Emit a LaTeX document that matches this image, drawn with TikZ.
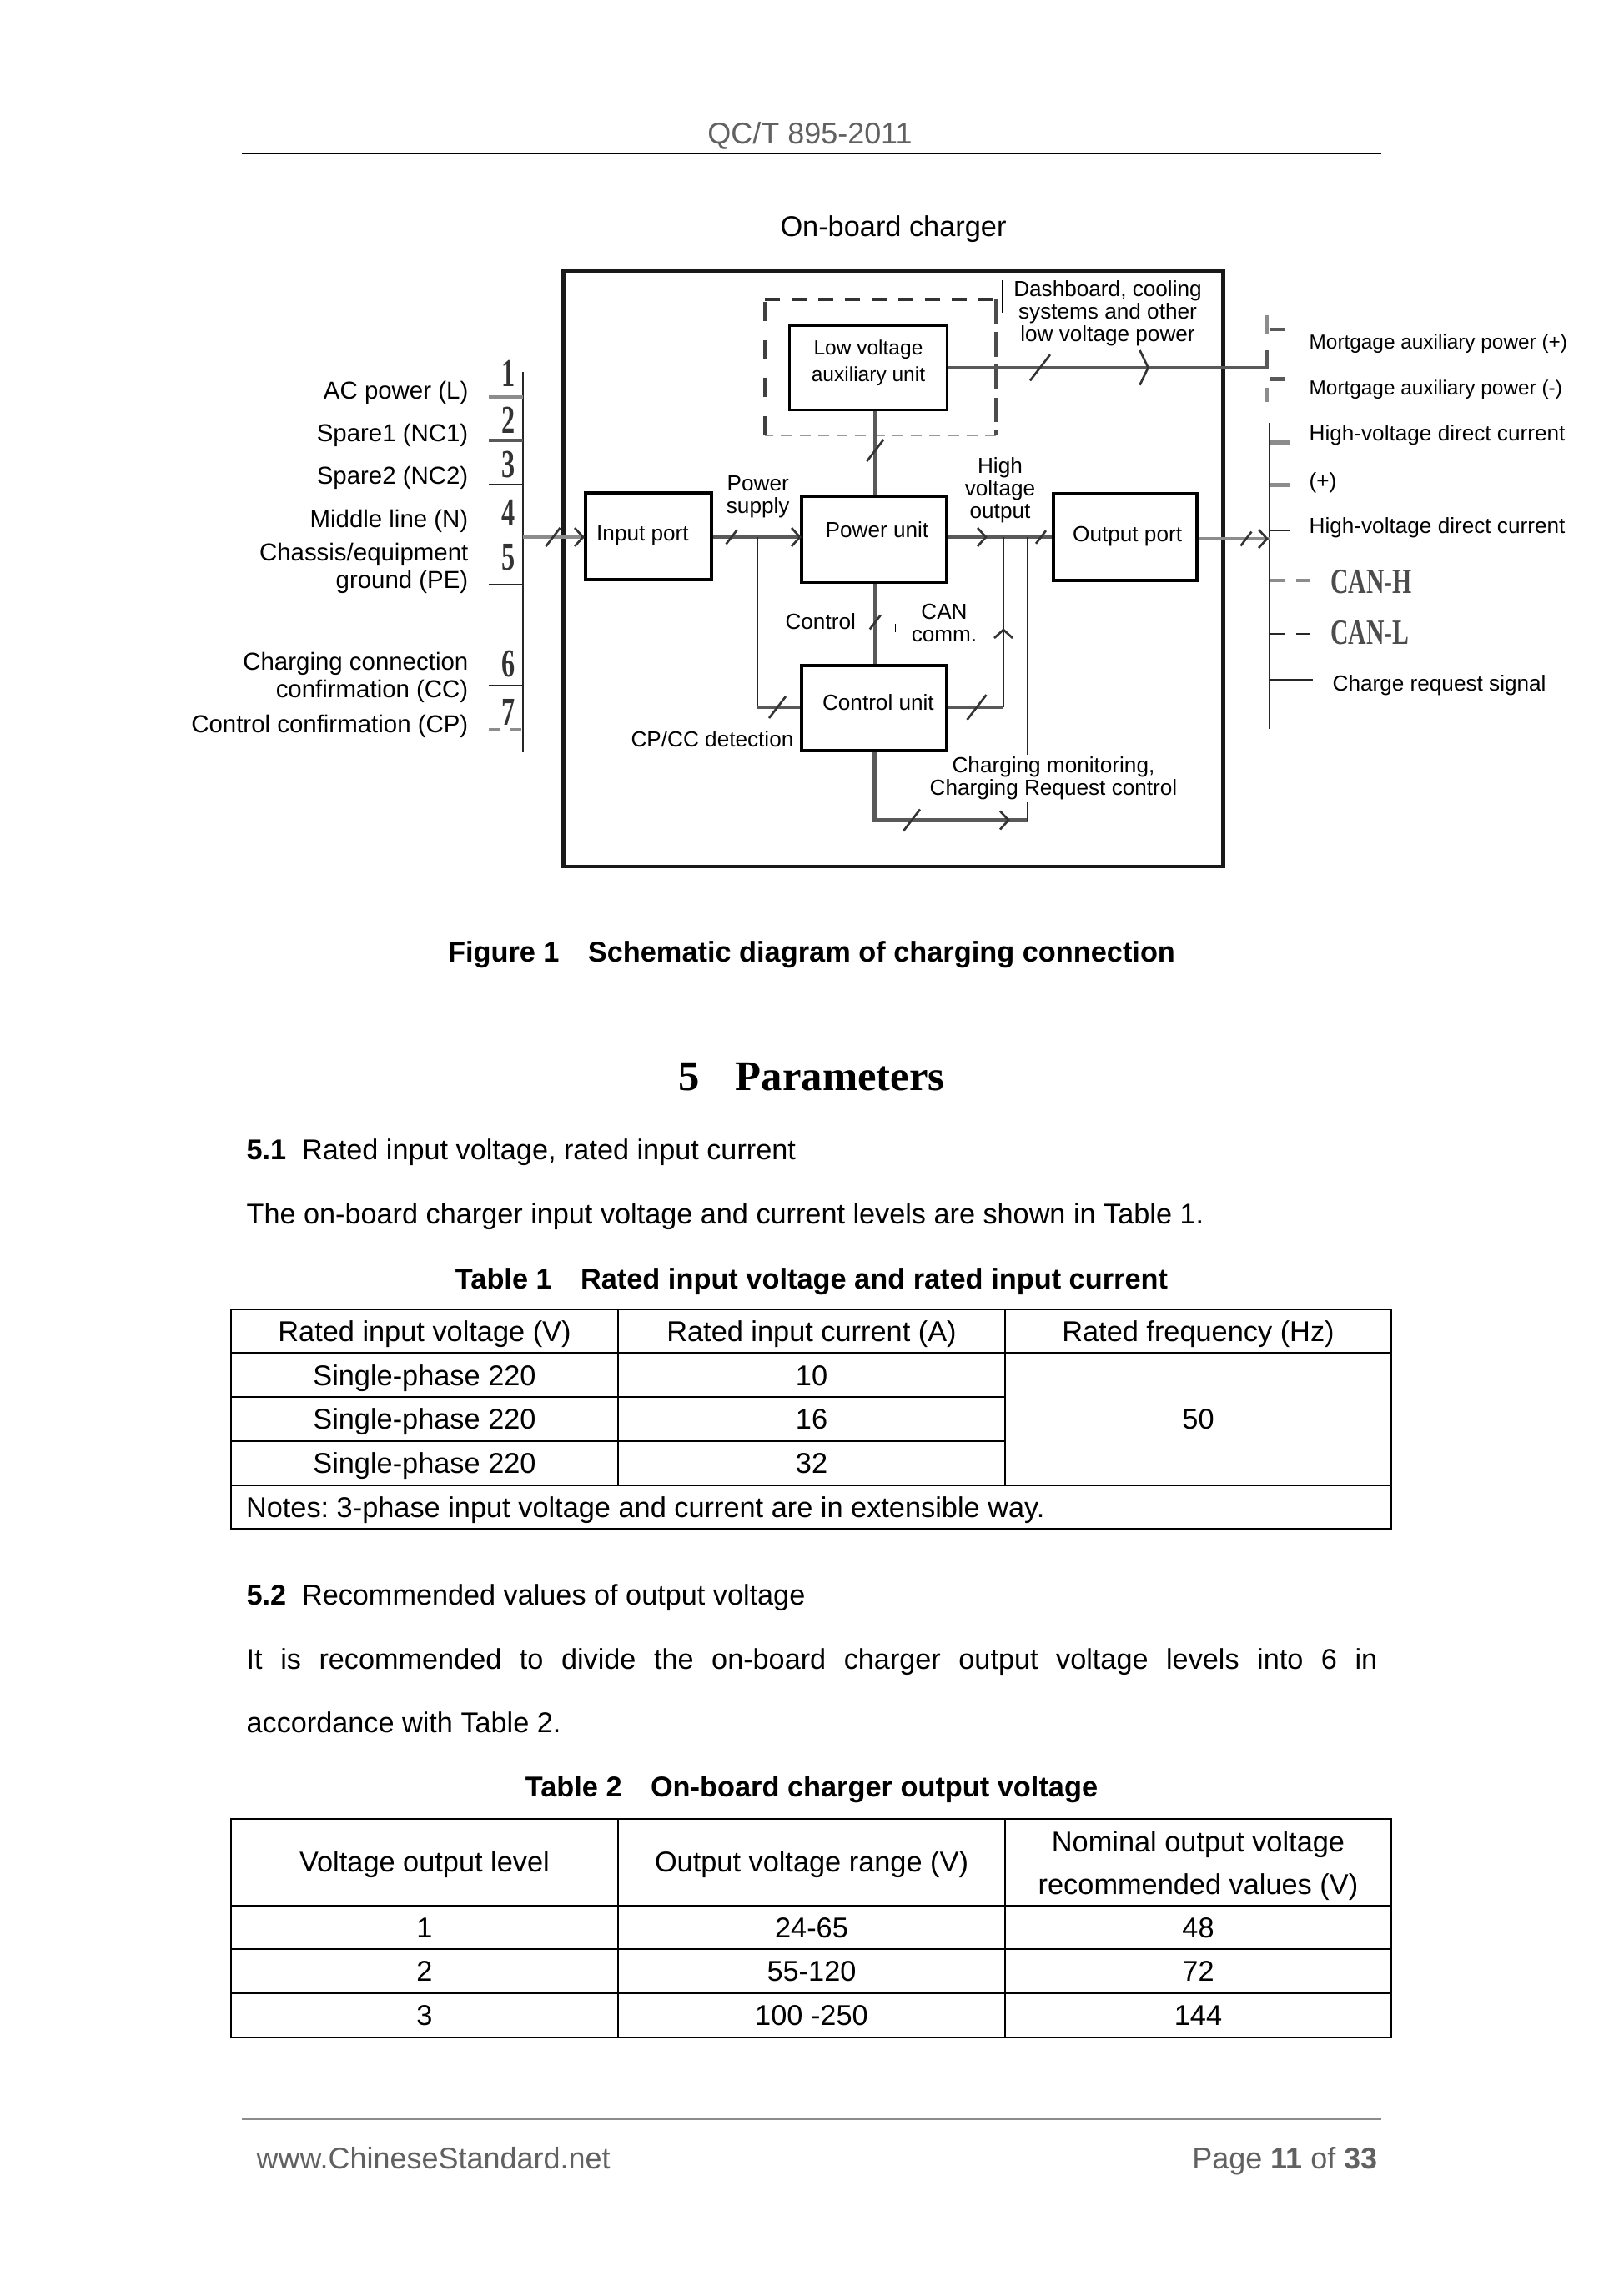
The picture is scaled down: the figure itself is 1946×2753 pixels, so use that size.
\documentclass[tikz,border=0pt]{standalone}
\usepackage{fontspec}
\usepackage{xcolor}
\setmainfont{Liberation Sans}
\newfontfamily\scanfont{Liberation Serif}
\usetikzlibrary{shapes, arrows.meta, positioning}
\newcommand{\pxu}{0.3058pt}
\definecolor{pagegray}{gray}{0.38}
\definecolor{wiregray}{gray}{0.35}

\begin{document}
\begin{tikzpicture}[x=0.3058pt, y=-0.3058pt,
            lbl/.style={inner sep=0pt, align=center, font=\fontsize{8}{8.2}\selectfont},
            one/.style={lbl, text height=7pt, text depth=1.2pt},
            leftlbl/.style={inner sep=0pt, anchor=east, align=right, font=\fontsize{9}{10}\selectfont},
            rightlbl/.style={one, anchor=west},
            pinnum/.style={inner sep=0pt, xscale=0.68, transform shape, text=black!80, font=\scanfont\fontsize{14.5}{15}\selectfont\bfseries},
            canlbl/.style={inner sep=0pt, anchor=west, xscale=0.7, transform shape, text=black!70, font=\scanfont\fontsize{13}{14}\selectfont\bfseries},
            unitbox/.style={draw, rectangle, line width=1.1pt, inner sep=0pt, align=center, font=\fontsize{8}{8.2}\selectfont},
            wire/.style={draw=wiregray, line width=1.4pt},
            thinwire/.style={draw=black!85, line width=0.6pt},
            fatgray/.style={draw=black!45, line width=1.4pt},
            cell/.style={draw, line width=0.5pt, inner sep=0pt, align=center, text height=9pt, text depth=1.5pt, font=\fontsize{10.5}{15.6}\selectfont},
            para/.style={inner sep=0pt, anchor=west, text height=9pt, text depth=1.5pt, font=\fontsize{10.47}{12}\selectfont},
            heading/.style={inner sep=0pt, text height=9pt, text depth=1.5pt, font=\fontsize{10.5}{12}\selectfont\bfseries},
            slash/.pic={\draw[draw=black!80, line width=0.8pt] (-10,13) -- (10,-13);},
            chev/.pic={\draw[draw=black!80, line width=0.8pt] (-10,-11) -- (0,0) -- (-10,11);}]

            \useasboundingbox (0,0) rectangle (1946,2753);

            \node[heading, font=\fontsize{11}{12}\selectfont, text=pagegray] (header) at (971,160) {QC/T 895-2011};
            \coordinate (rulel) at (290,184.5);
            \coordinate (ruler) at (1656,184.5);
            \draw[line width=0.6pt] (rulel) -- (ruler);
            \node[one, font=\fontsize{10.5}{12}\selectfont] (title) at (1071,274) {On-board charger};

            \node[draw=black!90, line width=1.3pt, rectangle, minimum width=791*\pxu, minimum height=714*\pxu, inner sep=0pt] (charger) at (1071,682) {};

            \node[unitbox, minimum width=189*\pxu, minimum height=101*\pxu, font=\fontsize{7.5}{10}\selectfont] (lowunit) at (1041,441) {Low voltage\\auxiliary unit\\[-4.8pt]\mbox{}};
            \node[unitbox, minimum width=151*\pxu, minimum height=104*\pxu, text height=6pt, text depth=2.4pt] (inport) at (777.5,643) {Input port\hspace{4.3pt}};
            \node[unitbox, minimum width=174*\pxu, minimum height=103*\pxu, text height=6pt, text depth=7.8pt] (powerunit) at (1048,647) {\hspace{2.1pt}Power unit};
            \node[unitbox, minimum width=172*\pxu, minimum height=104*\pxu, text height=6pt, text depth=2.8pt] (outport) at (1349,644) {\hspace{1.6pt}Output port};
            \node[unitbox, minimum width=174*\pxu, minimum height=102*\pxu, text height=6pt, text depth=4.4pt] (ctrlunit) at (1048,849) {\hspace{3pt}Control unit};

            \coordinate (dbtl) at (917,359);
            \coordinate (dbtr) at (1194,359);
            \coordinate (dbbl) at (917,522);
            \coordinate (dbbr) at (1194,522);
            \draw[draw=black!75, line width=1.1pt, dash pattern=on 7pt off 7pt] (dbbl) -- (dbtl);
            \draw[draw=black!80, line width=1.1pt, dash pattern=on 5.5pt off 4.3pt] (dbtl) -- (dbtr);
            \draw[draw=black!70, line width=1.1pt, dash pattern=on 9pt off 3pt] (dbtr) -- (dbbr);
            \draw[draw=black!40, line width=0.6pt, dash pattern=on 4pt off 2.8pt] (dbbr) -- (dbbl);
            \coordinate (flecka) at (1201.5,336);
            \coordinate (fleckb) at (1201.5,375);
            \draw[line width=0.3pt] (flecka) -- (fleckb);

            % left pins
            \coordinate (pinbust) at (627,446);
            \coordinate (pinbusb) at (627,902);
            \draw[thinwire] (pinbust) -- (pinbusb);
            \foreach \n/\ty/\ny/\sty in {1/476/448/fatgray, 2/528/504/wire, 3/581/557/thinwire, 4/0/615/, 5/701/668/thinwire, 6/822/796/thinwire}
            {
                \node[pinnum] (num\n) at (609.5,\ny) {\n};
                \ifnum\ty>0
                    \coordinate (tick\n) at (586,\ty);
                    \draw[\sty] (tick\n) -- (tick\n -| pinbust);
                \fi
            }
            \node[pinnum] (num7) at (609.5,854) {7};
            \coordinate (tick7) at (586,875);
            \draw[fatgray, dash pattern=on 4.3pt off 3.2pt] (tick7) -- (tick7 -| pinbust);

            \node[leftlbl] (lblL) at (562,471) {AC power (L)};
            \node[leftlbl] (lblNCa) at (562,521.5) {Spare1 (NC1)};
            \node[leftlbl] (lblNCb) at (562,572.5) {Spare2 (NC2)};
            \node[leftlbl] (lblN) at (562,624.5) {Middle line (N)};
            \node[leftlbl] (lblPE) at (562,681.5) {Chassis/equipment\\ground (PE)};
            \node[leftlbl] (lblCC) at (562,812.5) {Charging connection\\confirmation (CC)};
            \node[leftlbl] (lblCP) at (562,870.5) {Control confirmation (CP)};

            % signal lines
            \coordinate (mainy) at (0,644);
            \draw[fatgray] (pinbust |- mainy) -- (inport.west |- mainy);
            \pic at (699,644) {chev};
            \pic[scale=0.85] at (663,644) {slash};
            \draw[wire] (inport.east |- mainy) -- (powerunit.west |- mainy);
            \pic at (959,644) {chev};
            \pic[scale=0.65] at (877,644) {slash};
            \coordinate (ccjoin) at (908,848);
            \draw[thinwire] (ccjoin |- mainy) -- (ccjoin);
            \draw[wire] (ccjoin) -- (ctrlunit.west |- ccjoin);
            \pic at (932,848) {slash};
            \draw[wire] (powerunit.north -| 1049.3,0) -- (lowunit.south -| 1049.3,0);
            \pic at (1049.3,540) {slash};
            \draw[wire] (powerunit.south -| 1049.3,0) -- (ctrlunit.north -| 1049.3,0);
            \pic[scale=0.65] at (1049.3,746) {slash};
            \coordinate (flickc) at (1073,748);
            \coordinate (flickd) at (1073,758);
            \draw[line width=0.3pt] (flickc) -- (flickd);
            \draw[wire] (powerunit.east |- mainy) -- (outport.west |- mainy);
            \pic at (1182,644) {chev};
            \pic[scale=0.6] at (1248,644) {slash};
            \coordinate (canjoin) at (1203,848);
            \draw[wire] (ctrlunit.east |- canjoin) -- (canjoin);
            \draw[thinwire] (canjoin) -- (canjoin |- mainy);
            \pic[rotate=90] at (1203,755) {chev};
            \pic[scale=1.15] at (1171,848) {slash};
            \coordinate (monbot) at (1232,983.5);
            \coordinate (monstart) at (1048.4,983.5);
            \draw[wire] (ctrlunit.south -| monstart) -- (monstart) -- (monbot);
            \draw[thinwire] (monbot) -- (monbot |- mainy);
            \pic at (1209,983.5) {chev};
            \pic at (1093,983.5) {slash};
            \coordinate (lowout) at (1518.5,440.8);
            \coordinate (lowup) at (1518.5,420);
            \draw[wire] (lowunit.east |- lowout) -- (lowout) -- (lowup);
            \pic[yscale=1.9] at (1376.5,440.8) {chev};
            \pic[scale=1.2] at (1247,440.8) {slash};

            % right pins
            \coordinate (busa) at (1518.5,377.5);
            \coordinate (busb) at (1518.5,400);
            \coordinate (busc) at (1518.5,465);
            \coordinate (busd) at (1518.5,481.6);
            \draw[fatgray] (busa) -- (busb);
            \draw[fatgray] (busc) -- (busd);
            \coordinate (ticka) at (1523,395);
            \coordinate (tickb) at (1523,454.3);
            \draw[wire] (ticka) -- ++(17.7,0);
            \draw[wire] (tickb) -- ++(17.7,0);
            \coordinate (outbust) at (1521.6,507);
            \coordinate (outbusb) at (1521.6,873.5);
            \draw[thinwire] (outbust) -- (outbusb);
            \coordinate (outarrow) at (1521.6,646);
            \draw[fatgray] (outport.east |- outarrow) -- (outarrow);
            \pic at (1519,646) {chev};
            \pic[scale=0.65] at (1494,646) {slash};
            \foreach \ty/\sty in {530.6/fatgray, 581.6/fatgray}
            {
                \draw[\sty] (outbust |- 0,\ty) -- ++(25,0);
            }
            \draw[thinwire, line width=0.8pt] (outbust |- 0,636) -- ++(25,0);
            \draw[fatgray] (outbust |- 0,696) -- ++(19,0) ++(13,0) -- ++(16,0);
            \draw[thinwire, line width=0.8pt] (outbust |- 0,760) -- ++(19,0) ++(13,0) -- ++(16,0);
            \draw[thinwire, line width=0.8pt] (outbust |- 0,815.5) -- ++(52,0);

            \node[rightlbl, font=\fontsize{7.45}{8}\selectfont] (lblMp) at (1569,409) {Mortgage auxiliary power (+)};
            \node[rightlbl, font=\fontsize{7.45}{8}\selectfont] (lblMn) at (1569,464.5) {Mortgage auxiliary power (-)};
            \node[rightlbl] (lblHVa) at (1569,519) {High-voltage direct current};
            \node[rightlbl] (lblPlus) at (1569,575.5) {(+)};
            \node[rightlbl] (lblHVb) at (1569,630) {High-voltage direct current};
            \node[canlbl] (lblCANH) at (1595,698) {CAN-H};
            \node[canlbl] (lblCANL) at (1595,759) {CAN-L};
            \node[rightlbl] (lblReq) at (1597,819) {Charge request signal};

            % inner labels
            \node[lbl] (lblDash) at (1328,375.5) {Dashboard, cooling\\systems and other\\low voltage power};
            \node[lbl] (lblSupply) at (908.7,595.5) {Power\\supply};
            \node[lbl] (lblHigh) at (1199,587.5) {High\\voltage\\output};
            \node[one] (lblCtrl) at (983.7,744.5) {Control};
            \node[lbl] (lblCan) at (1132,747) {CAN\\comm.};
            \node[one] (lblDetect) at (854,885.5) {CP/CC detection};
            \node[lbl, fill=white, inner sep=1pt] (lblMon) at (1263,933.5) {Charging monitoring,\\Charging Request control};

            % caption and text
            \node[heading] (fig) at (973,1141) {Figure 1\hspace{1em}Schematic diagram of charging connection};
            \node[inner sep=0pt, font=\scanfont\fontsize{15.5}{18}\selectfont\bfseries] (sect) at (973,1291) {5\hspace{0.85em}Parameters};
            \node[para] (sub51) at (295,1378.5) {\textbf{5.1}\hspace{0.55em}Rated input voltage, rated input current};
            \node[para] (line51) at (295,1455) {The on-board charger input voltage and current levels are shown in Table 1.};
            \node[heading] (tab1cap) at (973,1533) {Table 1\hspace{1em}Rated input voltage and rated input current};

            \node[cell, minimum width=464*\pxu, minimum height=52.5*\pxu] (ta0) at (509,1596) {Rated input voltage (V)};
            \node[cell, minimum width=464*\pxu, minimum height=52.5*\pxu] (tb0) at (973,1596) {Rated input current (A)};
            \node[cell, minimum width=463*\pxu, minimum height=52.5*\pxu] (tc0) at (1436.5,1596) {Rated frequency (Hz)};
            \foreach \r/\y/\amp in {1/1649/10, 2/1701.5/16, 3/1754.5/32}
            {
                \node[cell, minimum width=464*\pxu, minimum height=52.5*\pxu] (ta\r) at (509,\y) {Single-phase 220};
                \node[cell, minimum width=464*\pxu, minimum height=52.5*\pxu] (tb\r) at (973,\y) {\amp};
            }
            \node[cell, minimum width=463*\pxu, minimum height=158.5*\pxu] (tcm) at (1436.5,1701.5) {50};
            \node[cell, text width=1355*\pxu, inner xsep=18*\pxu, minimum height=52.5*\pxu, align=flush left] (tnote) at (972.5,1807) {\frenchspacing Notes: 3-phase input voltage and current are in extensible way.};

            \node[para] (sub52) at (295,1912) {\textbf{5.2}\hspace{0.55em}Recommended values of output voltage};
            \node[para] (line52a) at (295,1989.5) {\makebox[414.6pt][s]{It is recommended to divide the on-board charger output voltage levels into 6 in}};
            \node[para] (line52b) at (295,2065) {accordance with Table 2.};
            \node[heading] (tab2cap) at (973,2142) {Table 2\hspace{1em}On-board charger output voltage};

            \node[cell, minimum width=464*\pxu, minimum height=103.5*\pxu] (ua0) at (509,2232.7) {Voltage output level};
            \node[cell, minimum width=464*\pxu, minimum height=103.5*\pxu] (ub0) at (973,2232.7) {Output voltage range (V)};
            \node[cell, minimum width=463*\pxu, minimum height=103.5*\pxu, text height=, text depth=] (uc0) at (1436.5,2232.7) {\rule{0pt}{10pt}Nominal output voltage\\recommended values (V)};
            \foreach \r/\y/\lev/\rng/\nom in {1/2311/1/24-65/48, 2/2363.5/2/55-120/72, 3/2416.5/3/100 -250/144}
            {
                \node[cell, minimum width=464*\pxu, minimum height=52.5*\pxu] (ua\r) at (509,\y) {\lev};
                \node[cell, minimum width=464*\pxu, minimum height=52.5*\pxu] (ub\r) at (973,\y) {\rng};
                \node[cell, minimum width=463*\pxu, minimum height=52.5*\pxu] (uc\r) at (1436.5,\y) {\nom};
            }

            % footer
            \coordinate (footl) at (290,2541);
            \coordinate (footr) at (1656,2541);
            \draw[draw=black!45, line width=0.6pt] (footl) -- (footr);
            \node[para, font=\fontsize{11}{12}\selectfont, text=pagegray] (site) at (307,2588) {\underline{www.ChineseStandard.net}};
            \node[para, font=\fontsize{11}{12}\selectfont, anchor=east, text=pagegray] (pageno) at (1652,2588) {Page \textbf{11} of \textbf{33}};
        \end{tikzpicture}
\end{document}
